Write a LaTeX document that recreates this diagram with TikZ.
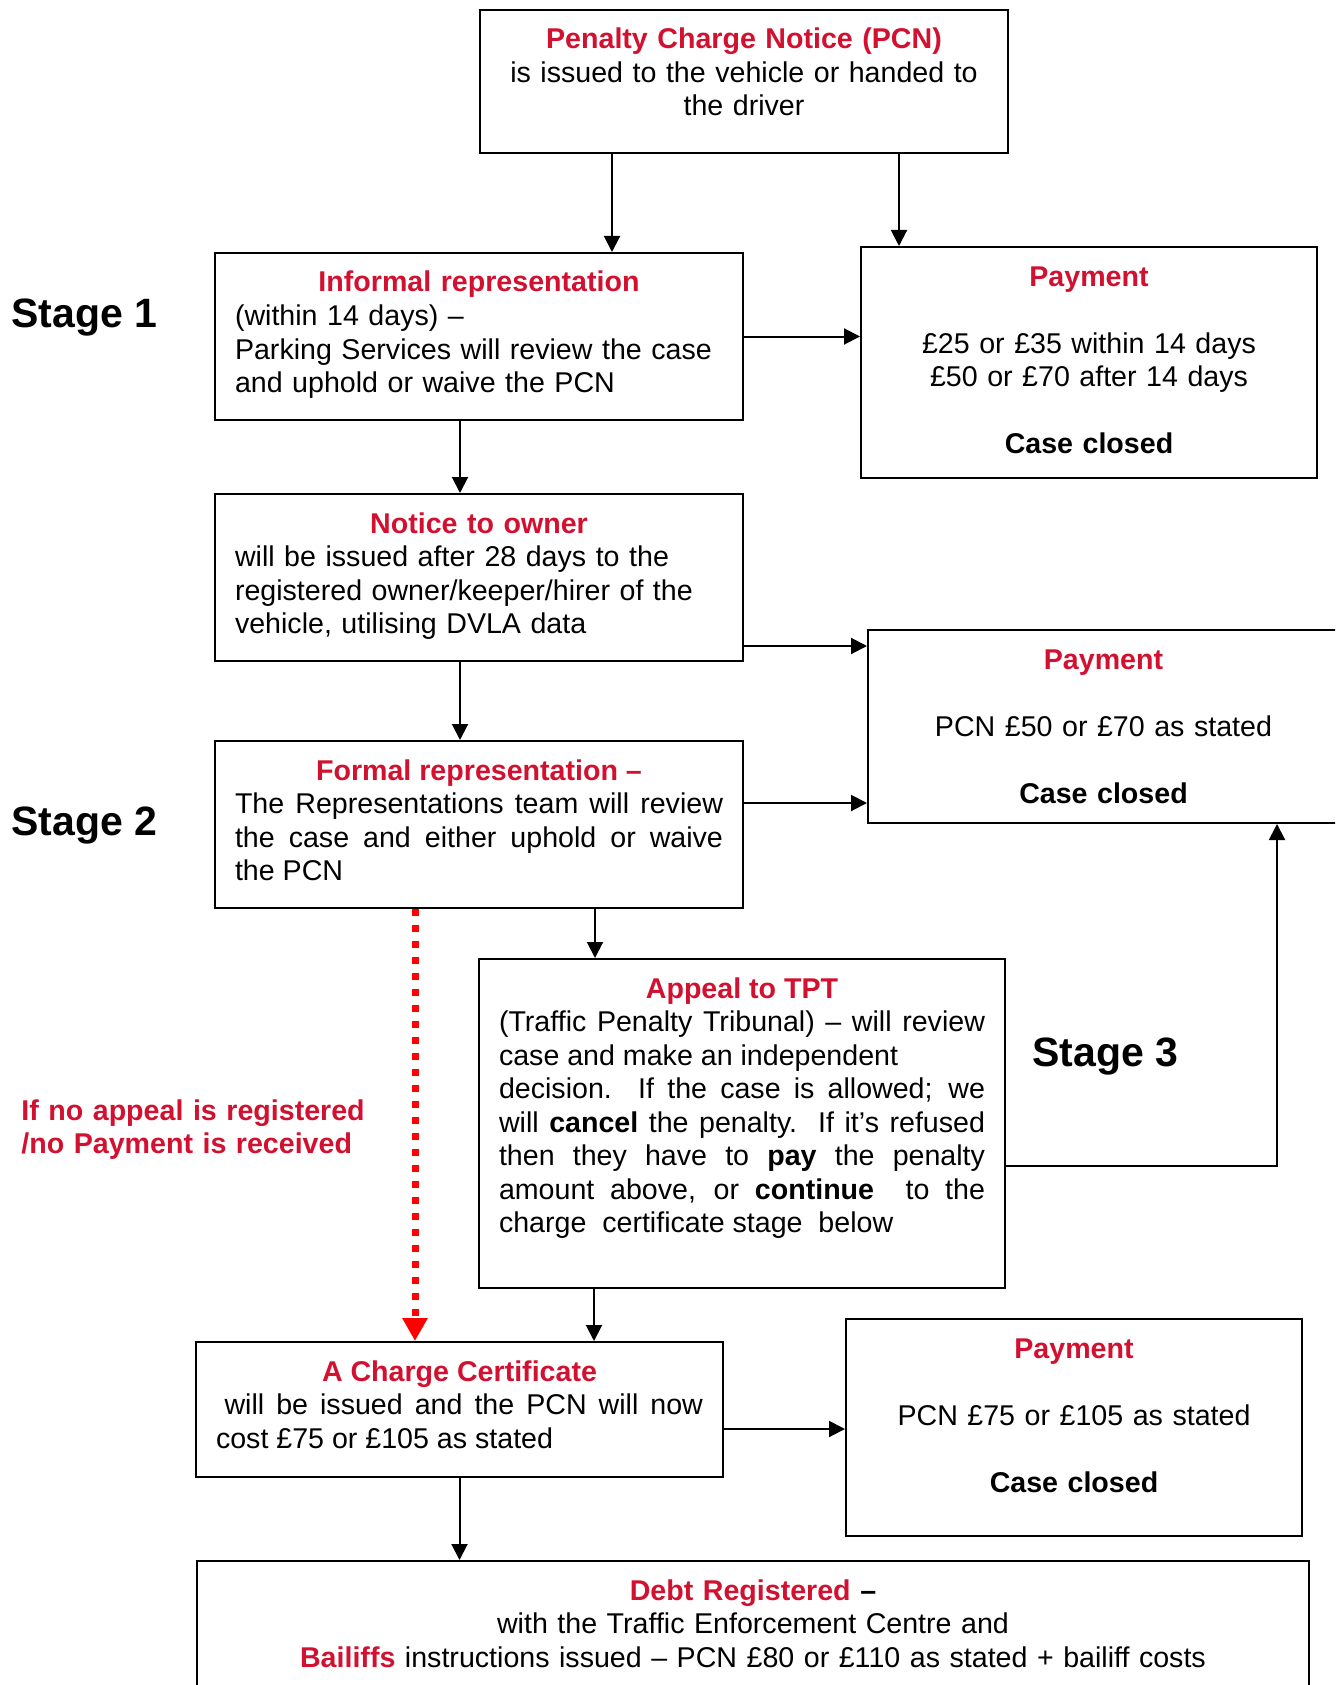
\documentclass[tikz,border=0pt]{standalone}
\usepackage{fontspec}
\setmainfont{Liberation Sans}
\usepackage{tikz}
\usetikzlibrary{arrows.meta,positioning,calc}

\definecolor{pcnred}{RGB}{210,16,48}
\definecolor{dotred}{RGB}{255,0,0}
\newcommand{\bodyfont}{\fontsize{14.3pt}{16.75pt}\selectfont}
\newcommand{\redhead}[1]{{\bfseries\color{pcnred}#1}}
\newcommand{\ctrline}[1]{\makebox[\linewidth]{#1}}

\begin{document}
\begin{tikzpicture}[
  x=0.5pt,
  y=-0.5pt,
  font=\bodyfont,
  >={Triangle[length=8pt,width=8pt]},
  flow/.style={->, line width=1pt, draw=black},
  lapse/.style={-{Triangle[length=11.5pt,width=12pt]}, line width=3.5pt,
    draw=dotred, dash pattern=on 3.5pt off 4.5pt},
  box/.style={draw=black, line width=1pt, anchor=north west,
    inner xsep=10pt, inner ysep=0pt, text height=19.5pt},
  stage/.style={font=\fontsize{20.5pt}{24pt}\selectfont\bfseries,
    anchor=base west, inner sep=0pt},
  note/.style={font=\bodyfont\bfseries, text=pcnred, align=left,
    text width=180pt, anchor=base west, inner sep=0pt}
]

\useasboundingbox (0,0) rectangle (1335,1685);
\clip (0,0) rectangle (1335,1685);

% stage 1
\node[box, text width=244pt, text depth=52pt, align=center] (pcn) at (479,9)
  {\redhead{Penalty Charge Notice (PCN)}\\is issued to the vehicle or handed to\\the driver};
\node[box, text width=244pt, text depth=64pt, align=left] (inf) at (214,252)
  {\ctrline{\redhead{Informal representation}}\\(within 14 days) –\\Parking Services will review the case\\and uphold or waive the PCN};
\node[box, text width=208pt, text depth=96pt, align=center] (pay1) at (860,246)
  {\redhead{Payment}\\[16.75pt]£25 or £35 within 14 days\\£50 or £70 after 14 days\\[16.75pt]\textbf{Case closed}};
\node[box, text width=244pt, text depth=64pt, align=left] (owner) at (214,493)
  {\ctrline{\redhead{Notice to owner}}\\will be issued after 28 days to the\\registered owner/keeper/hirer of the\\vehicle, utilising DVLA data};

% stage 2
\node[box, text width=215.5pt, text depth=77pt, align=center] (pay2) at (867,629)
  {\redhead{Payment}\\[16.75pt]PCN £50 or £70 as stated\\[16.75pt]\textbf{Case closed}};
\node[box, text width=244pt, text depth=64pt, align=justify] (formal) at (214,740)
  {\ctrline{\redhead{Formal representation –}}\\The Representations team will review\linebreak
   the case and either uphold or waive\linebreak
   the PCN};

% stage 3
\node[box, text width=243pt, text depth=145pt, align=justify] (appeal) at (478,958)
  {\ctrline{\redhead{Appeal to TPT}}\\
   (Traffic Penalty Tribunal) – will review\linebreak
   case and make an independent\\
   decision.\ \ If the case is allowed; we\linebreak
   will \textbf{cancel} the penalty.\ \ If it’s refused\linebreak
   then they have to \textbf{pay} the penalty\linebreak
   amount above, or \textbf{continue}\ \ to the\linebreak
   charge\ \ certificate stage\ \ below};
\node[box, text width=243.5pt, text depth=48pt, align=justify] (charge) at (195,1341)
  {\ctrline{\redhead{A Charge Certificate}}\\
   \hspace*{0.3em}will be issued and the PCN will now\linebreak
   cost £75 or £105 as stated};
\node[box, text width=208pt, text depth=89pt, align=center] (pay3) at (845,1318)
  {\redhead{Payment}\\[16.75pt]PCN £75 or £105 as stated\\[16.75pt]\textbf{Case closed}};
\node[box, text width=536pt, text depth=60pt, align=center] (debt) at (196,1560)
  {\redhead{Debt Registered} \textbf{–}\\with the Traffic Enforcement Centre and\\
   \redhead{Bailiffs} instructions issued – PCN £80 or £110 as stated + bailiff costs};

\node[stage] (stage1) at (11,327) {Stage 1};
\node[stage] (stage2) at (11,835) {Stage 2};
\node[stage] (stage3) at (1032,1066) {Stage 3};
\node[note] (noappeal) at (21,1120)
  {If no appeal is registered\\/no Payment is received};

\draw[flow] ([xshift=-66pt]pcn.south) -- ([xshift=-66pt]pcn.south |- inf.north);
\draw[flow] ([xshift=77.5pt]pcn.south) -- ([xshift=77.5pt]pcn.south |- pay1.north);
\draw[flow] (inf.east) -- (inf.east -| pay1.west);
\draw[flow] ([xshift=-9.5pt]inf.south) -- ([xshift=-9.5pt]inf.south |- owner.north);
\draw[flow] ([yshift=-34.25pt]owner.east) -- ([yshift=-34.25pt]owner.east -| pay2.west);
\draw[flow] ([xshift=-9.5pt]owner.south) -- ([xshift=-9.5pt]owner.south |- formal.north);
\draw[flow] ([yshift=10.75pt]formal.east) -- ([yshift=10.75pt]formal.east -| pay2.west);
\draw[flow] ([xshift=58pt]formal.south) -- ([xshift=58pt]formal.south |- appeal.north);
\draw[flow] ([yshift=-21.25pt]appeal.east) -| ([xshift=86.75pt]pay2.south);
\draw[lapse] ([xshift=-32pt]formal.south) -- ([xshift=-32pt]formal.south |- charge.north);
\draw[flow] ([xshift=-74pt]appeal.south) -- ([xshift=-74pt]appeal.south |- charge.north);
\draw[flow] ([yshift=-9.75pt]charge.east) -- ([yshift=-9.75pt]charge.east -| pay3.west);
\draw[flow] (charge.south) -- (charge.south |- debt.north);

\end{tikzpicture}
\end{document}
